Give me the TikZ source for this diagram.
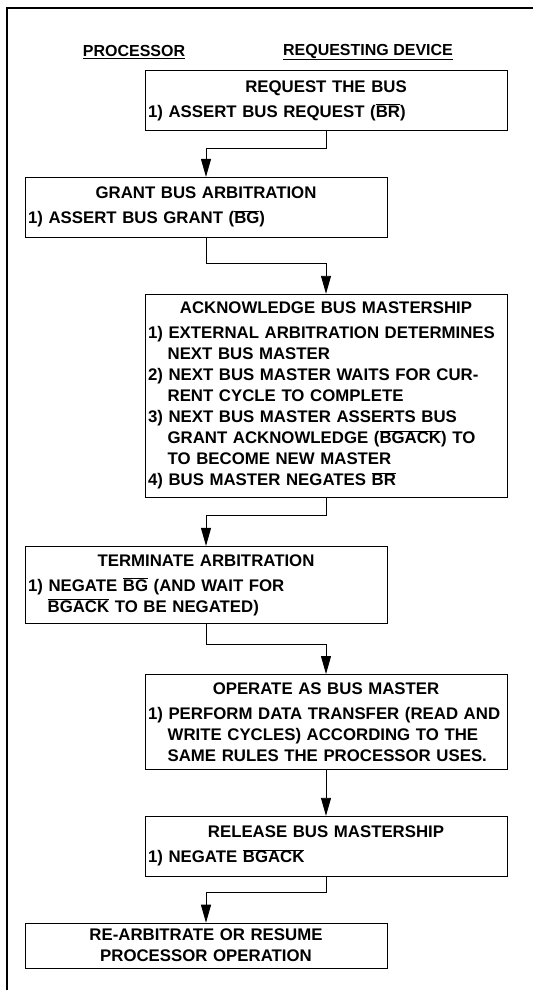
\documentclass[tikz,border=0pt]{standalone}
\usepackage{fontspec}
\setmainfont{Liberation Sans}
\usetikzlibrary{positioning,arrows.meta}

\newcommand{\ovl}[1]{$\overline{\mbox{#1}}$}
\newcommand{\boxtitle}[1]{\noindent{\centering #1\par}\vspace{4pt}}
\newcommand{\boxstep}[1]{\noindent\hangindent=1.17em\hangafter=1 #1\par}

\begin{document}
\begin{tikzpicture}[x=1pt, y=-1pt,
  box/.style={draw, line width=0.9pt, text width=356pt, inner xsep=3pt, inner ysep=8pt,
    font=\fontsize{16.8}{21}\selectfont\bfseries\raggedright},
  side/.style={font=\fontsize{16}{19}\selectfont\bfseries},
  flow/.style={line width=0.9pt, -{Triangle[length=18pt, width=10pt]}},
  frame/.style={line width=1.2pt}]%
  \useasboundingbox (0,0) rectangle (533,990);
  \draw[frame] (533,8) -- (7,8) -- (7,990);

  \node[side] (proc) at (134,52) {\underline{PROCESSOR}};
  \node[side] (dev) at (368,52) {\underline{REQUESTING DEVICE}};

  \node[box, anchor=north, minimum height=60pt] (request) at (326,70) {%
    \boxtitle{REQUEST THE BUS}
    \boxstep{1) ASSERT BUS REQUEST (\ovl{BR})}};
  \node[box, minimum height=60pt] (grant) [below=46pt of request, xshift=-120pt] {%
    \boxtitle{GRANT BUS ARBITRATION}
    \boxstep{1) ASSERT BUS GRANT (\ovl{BG})}};
  \draw[flow] (request.south) -- ++(0,18) -| (grant.north);

  \node[box] (ack) [below=56pt of grant, xshift=120pt] {%
    \boxtitle{ACKNOWLEDGE BUS MASTERSHIP}
    \boxstep{1) EXTERNAL ARBITRATION DETERMINES\newline NEXT BUS MASTER}
    \boxstep{2) NEXT BUS MASTER WAITS FOR CUR-\newline RENT CYCLE TO COMPLETE}
    \boxstep{3) NEXT BUS MASTER ASSERTS BUS\newline GRANT ACKNOWLEDGE (\ovl{BGACK}) TO\newline TO BECOME NEW MASTER}
    \boxstep{4) BUS MASTER NEGATES \ovl{BR}}};
  \draw[flow] (grant.south) -- ++(0,26) -| (ack.north);

  \node[box] (terminate) [below=48pt of ack, xshift=-120pt] {%
    \boxtitle{TERMINATE ARBITRATION}
    \boxstep{1) NEGATE \ovl{BG} (AND WAIT FOR\newline \ovl{BGACK} TO BE NEGATED)}};
  \draw[flow] (ack.south) -- ++(0,18) -| (terminate.north);

  \node[box] (operate) [below=50pt of terminate, xshift=120pt] {%
    \boxtitle{OPERATE AS BUS MASTER}
    \boxstep{1) PERFORM DATA TRANSFER (READ AND\newline WRITE CYCLES) ACCORDING TO THE\newline SAME RULES THE PROCESSOR USES.}};
  \draw[flow] (terminate.south) -- ++(0,20) -| (operate.north);

  \node[box, minimum height=60pt] (release) [below=46pt of operate] {%
    \boxtitle{RELEASE BUS MASTERSHIP}
    \boxstep{1) NEGATE \ovl{BGACK}}};
  \draw[flow] (operate) -- (release);

  \node[box, inner ysep=6pt] (rearb) [below=46pt of release, xshift=-120pt] {%
    \noindent{\centering RE-ARBITRATE OR RESUME\\PROCESSOR OPERATION\par}};
  \draw[flow] (release.south) -- ++(0,16) -| (rearb.north);
\end{tikzpicture}
\end{document}
